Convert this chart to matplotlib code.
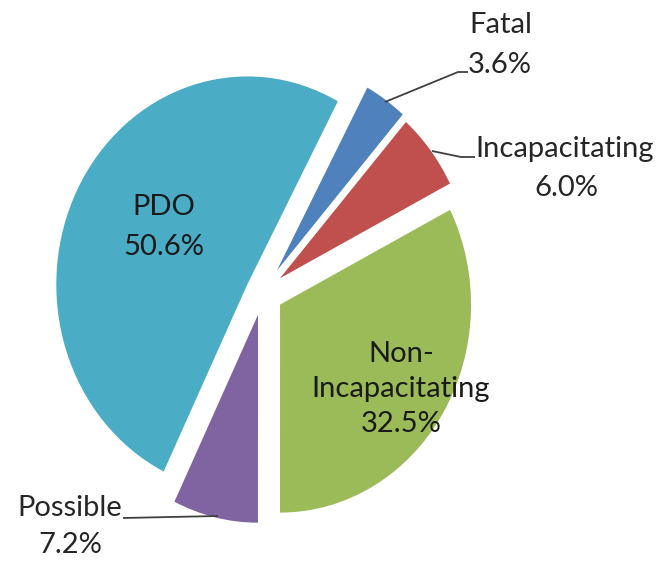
import matplotlib
matplotlib.use("Agg")
import matplotlib.pyplot as plt

# ---- data ----
categories = ["Fatal", "Incapacitating", "Non-\nIncapacitating", "Possible", "PDO"]
values = [3.6, 6.0, 32.5, 7.2, 50.6]
pct_labels = ["3.6%", "6.0%", "32.5%", "7.2%", "50.6%"]
colors = ["#4F81BD", "#C0504D", "#9BBB59", "#8064A2", "#4BACC6"]
explode = [0.13, 0.115, 0.107, 0.107, 0.09]

W, H = 656, 561
CX, CY, RX, RY = 262.6, 293.0, 191.0, 208.0


def px(x, y):
    """pixel position -> data coordinates"""
    return (x - CX) / RX, (CY - y) / RY


fig = plt.figure(figsize=(W / 100, H / 100), dpi=100)
ax = fig.add_axes([0, 0, 1, 1])
ax.pie(values, explode=explode, colors=colors, startangle=61.7,
       counterclock=False, radius=1, center=(0, 0),
       wedgeprops=dict(linewidth=0))
ax.set_aspect("auto")
x0, y0 = px(0, H)
x1, y1 = px(W, 0)
ax.set_xlim(x0, x1)
ax.set_ylim(y0, y1)
ax.axis("off")

font = "Lato"
fs = 21
tc = "#262626"
lc = "#404040"

# outer labels
ax.text(*px(501, 25), categories[0], ha="center", va="center",
        fontsize=fs, family=font, color=tc)
ax.text(*px(500, 65), pct_labels[0], ha="center", va="center",
        fontsize=fs, family=font, color=tc)
ax.text(*px(565, 149), categories[1], ha="center", va="center",
        fontsize=fs, family=font, color=tc)
ax.text(*px(566, 188), pct_labels[1], ha="center", va="center",
        fontsize=fs, family=font, color=tc)
ax.text(*px(70, 508), categories[3], ha="center", va="center",
        fontsize=fs, family=font, color=tc)
ax.text(*px(70, 545), pct_labels[3], ha="center", va="center",
        fontsize=fs, family=font, color=tc)

# inner labels
ax.text(*px(164, 207), categories[4], ha="center", va="center",
        fontsize=fs, family=font, color="#1a1a1a")
ax.text(*px(164, 247), pct_labels[4], ha="center", va="center",
        fontsize=fs, family=font, color="#1a1a1a")
ax.text(*px(401, 389), categories[2] + "\n" + pct_labels[2], ha="center",
        va="center", fontsize=fs, family=font, color="#1a1a1a",
        linespacing=1.45)

# leader lines
def leader(pts):
    xs, ys = zip(*[px(a, b) for a, b in pts])
    ax.plot(xs, ys, color=lc, lw=1.3, solid_capstyle="butt")

leader([(385, 102), (458, 72), (468, 72)])
leader([(432, 151), (461, 157), (475, 157)])
leader([(218, 516), (123, 518)])

fig.savefig("out.png", dpi=100)
